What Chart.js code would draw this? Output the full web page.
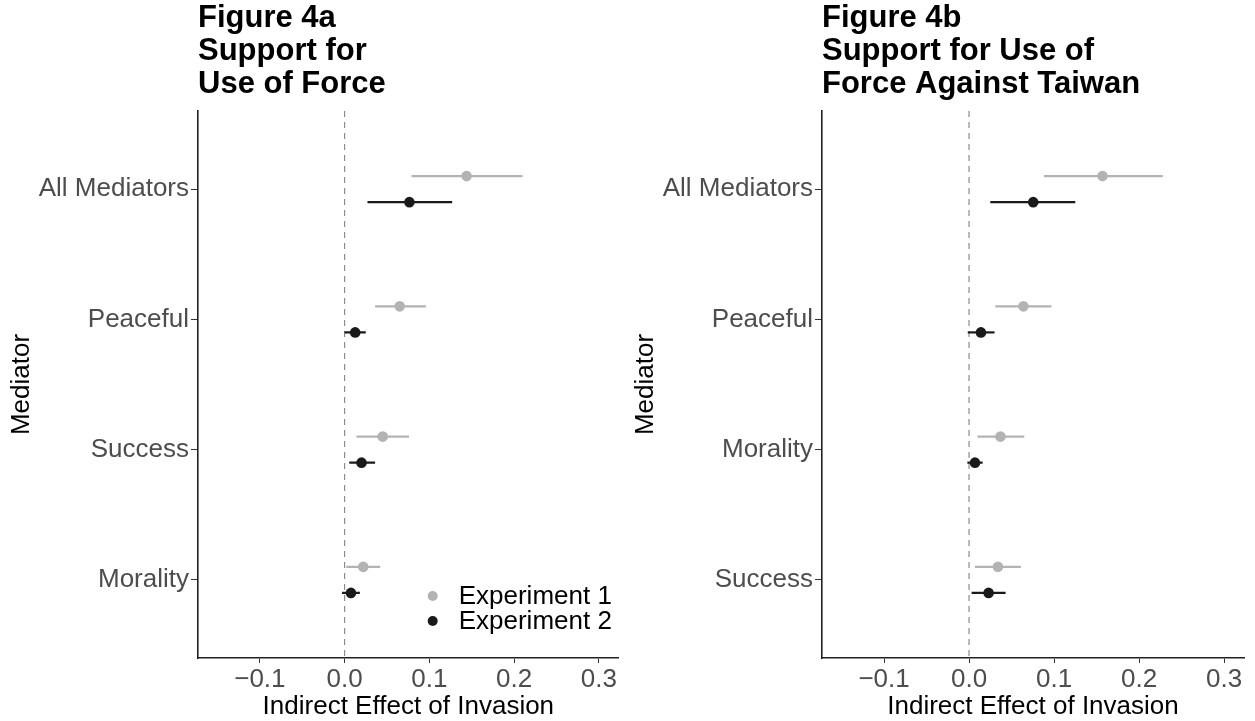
<!DOCTYPE html>
<html>
<head>
<meta charset="utf-8">
<title>Figure 4 - Indirect effects</title>
<script src="https://cdn.jsdelivr.net/npm/chart.js@4.4.1/dist/chart.umd.min.js"></script>
<style>
  html, body { margin: 0; padding: 0; background: #fff; }
  #wrap { position: relative; width: 1255px; height: 721px; }
  .panel { position: absolute; top: 0; height: 721px; }
</style>
</head>
<body>
<div id="wrap">
  <div class="panel" style="left:0;width:624px"><canvas id="chartA"></canvas></div>
  <div class="panel" style="left:624px;width:631px"><canvas id="chartB"></canvas></div>
</div>
<script>
// Series labels and colours
const seriesNames = ['Experiment 1', 'Experiment 2'];
const seriesColors = ['#b3b3b3', '#1a1a1a'];

// Panel A: Support for Use of Force
const categoriesA = ['All Mediators', 'Peaceful', 'Success', 'Morality'];
const exp1EstA = [0.144, 0.065, 0.045, 0.022];
const exp1LowA = [0.079, 0.036, 0.014, 0.002];
const exp1HighA = [0.210, 0.096, 0.076, 0.042];
const exp2EstA = [0.0765, 0.0125, 0.020, 0.0075];
const exp2LowA = [0.027, 0.000, 0.0055, -0.003];
const exp2HighA = [0.127, 0.025, 0.036, 0.018];

// Panel B: Support for Use of Force Against Taiwan
const categoriesB = ['All Mediators', 'Peaceful', 'Morality', 'Success'];
const exp1EstB = [0.157, 0.064, 0.037, 0.034];
const exp1LowB = [0.088, 0.031, 0.010, 0.007];
const exp1HighB = [0.228, 0.097, 0.065, 0.061];
const exp2EstB = [0.0755, 0.014, 0.007, 0.023];
const exp2LowB = [0.025, -0.0015, -0.002, 0.003];
const exp2HighB = [0.125, 0.030, 0.016, 0.043];

// Axis ticks
const xTicks = [-0.1, 0.0, 0.1, 0.2, 0.3];

const FONT = '"Liberation Sans", Arial, Helvetica, sans-serif';
const DODGE = 0.1;

// Legend drawn inside the plotting area (bottom right), as in the original
const insideLegend = {
  id: 'insideLegend',
  afterDraw(chart, args, opts) {
    if (!opts.show) return;
    const { ctx, chartArea } = chart;
    ctx.save();
    ctx.font = '26px ' + FONT;
    ctx.textBaseline = 'middle';
    ctx.textAlign = 'left';
    seriesNames.forEach((name, i) => {
      const y = chartArea.bottom - opts.fromBottom + i * opts.rowGap;
      const x = chartArea.right - opts.fromRight;
      ctx.fillStyle = seriesColors[i];
      ctx.beginPath();
      ctx.arc(x, y, 5, 0, Math.PI * 2);
      ctx.fill();
      ctx.fillStyle = '#000';
      ctx.fillText(name, x + 26, y + 1);
    });
    ctx.restore();
  }
};

function formatTick(v) {
  const s = Math.abs(v).toFixed(1);
  return v < -1e-9 ? '\u2212' + s : s;
}

function makePanel(canvasId, titleLines, cats, series, showLegend, rightPad) {
  const datasets = [];

  // dashed reference line at zero
  datasets.push({
    data: [{ x: 0, y: 0.4 }, { x: 0, y: cats.length + 0.6 }],
    showLine: true,
    borderColor: '#8c8c8c',
    borderWidth: 1.2,
    borderDash: [6, 5],
    pointRadius: 0,
    order: 10
  });

  series.forEach((s, si) => {
    const off = si === 0 ? -DODGE : DODGE;
    // horizontal interval bars
    cats.forEach((c, i) => {
      datasets.push({
        data: [{ x: s.low[i], y: i + 1 + off }, { x: s.high[i], y: i + 1 + off }],
        showLine: true,
        borderColor: seriesColors[si],
        borderWidth: 2.2,
        pointRadius: 0,
        order: 5
      });
    });
    // point estimates
    datasets.push({
      label: seriesNames[si],
      data: s.est.map((v, i) => ({ x: v, y: i + 1 + off })),
      pointRadius: 5.3,
      pointBackgroundColor: seriesColors[si],
      pointBorderWidth: 0,
      order: 1
    });
  });

  return new Chart(document.getElementById(canvasId), {
    type: 'scatter',
    data: { datasets },
    options: {
      responsive: true,
      maintainAspectRatio: false,
      animation: false,
      layout: { padding: { left: 0, right: rightPad, top: 0, bottom: 0 } },
      plugins: {
        legend: { display: false },
        tooltip: { enabled: false },
        title: {
          display: true,
          text: titleLines,
          align: 'start',
          fullSize: false,
          color: '#000',
          font: { family: FONT, size: 31, weight: 'bold', lineHeight: 33 / 31 },
          padding: { top: 2, bottom: 10 }
        },
        insideLegend: { show: showLegend, fromRight: 186, fromBottom: 62, rowGap: 25 }
      },
      scales: {
        x: {
          type: 'linear',
          min: -0.173,
          max: 0.3235,
          afterBuildTicks: (scale) => { scale.ticks = xTicks.map(v => ({ value: v })); },
          afterFit: (scale) => { scale.height = 63; },
          grid: { drawOnChartArea: false, drawTicks: true, tickLength: 5, color: '#333' },
          border: { color: '#222', width: 1.6 },
          ticks: {
            color: '#4d4d4d',
            padding: 1,
            font: { family: FONT, size: 26 },
            callback: (v) => formatTick(v)
          },
          title: {
            display: true,
            text: 'Indirect Effect of Invasion',
            color: '#000',
            font: { family: FONT, size: 26, lineHeight: 28 / 26 },
            padding: { top: 0, bottom: 0 }
          }
        },
        y: {
          type: 'linear',
          reverse: true,
          min: 0.4,
          max: cats.length + 0.6,
          afterBuildTicks: (scale) => { scale.ticks = cats.map((c, i) => ({ value: i + 1 })); },
          afterFit: (scale) => { scale.width = 198; },
          grid: { drawOnChartArea: false, drawTicks: true, tickLength: 7, color: '#333' },
          border: { color: '#222', width: 1.6 },
          ticks: {
            color: '#4d4d4d',
            padding: 2,
            font: { family: FONT, size: 26 },
            callback: (v) => cats[Math.round(v) - 1]
          },
          title: {
            display: true,
            text: 'Mediator',
            color: '#000',
            font: { family: FONT, size: 26, lineHeight: 28 / 26 },
            padding: { top: 8, bottom: 0 }
          }
        }
      }
    },
    plugins: [insideLegend]
  });
}

window.onload = function () {
  makePanel('chartA', ['Figure 4a', 'Support for', 'Use of Force'], categoriesA, [
    { est: exp1EstA, low: exp1LowA, high: exp1HighA },
    { est: exp2EstA, low: exp2LowA, high: exp2HighA }
  ], true, 4);

  makePanel('chartB', ['Figure 4b', 'Support for Use of', 'Force Against Taiwan'], categoriesB, [
    { est: exp1EstB, low: exp1LowB, high: exp1HighB },
    { est: exp2EstB, low: exp2LowB, high: exp2HighB }
  ], false, 11);
};
</script>
</body>
</html>
